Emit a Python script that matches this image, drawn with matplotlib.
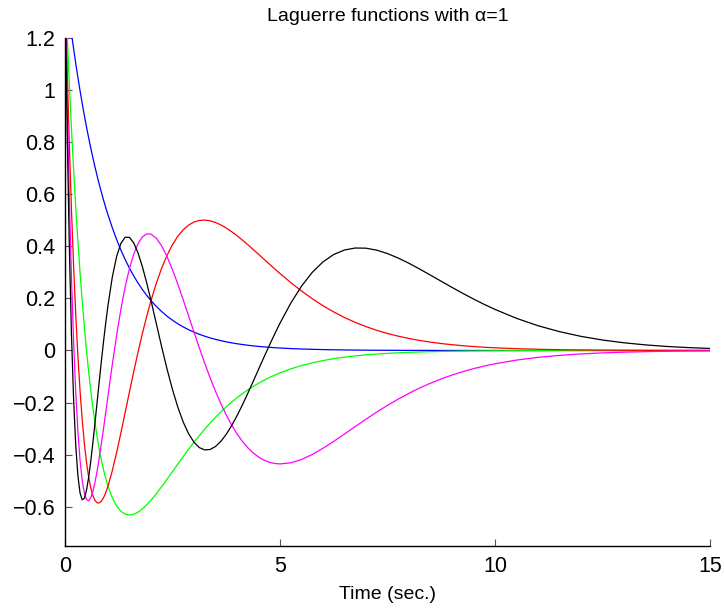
import numpy as np
import matplotlib
matplotlib.use("Agg")
import matplotlib.pyplot as plt

plt.rcParams['font.family'] = ['Liberation Sans', 'DejaVu Sans']

# time samples (sec.)
t = [0, 0.05, 0.1, 0.15, 0.2, 0.25, 0.3, 0.35, 0.4, 0.45, 0.5, 0.55, 0.6, 0.65, 0.7,
     0.75, 0.8, 0.85, 0.9, 0.95, 1.0,
     1.1, 1.2, 1.3, 1.4, 1.5, 1.6, 1.7, 1.8, 1.9, 2.0,
     2.125, 2.25, 2.375, 2.5, 2.625, 2.75, 2.875, 3.0, 3.125, 3.25, 3.375, 3.5,
     3.625, 3.75, 3.875, 4.0, 4.125, 4.25, 4.375, 4.5, 4.625, 4.75, 4.875, 5.0,
     5.25, 5.5, 5.75, 6.0, 6.25, 6.5, 6.75, 7.0, 7.25, 7.5, 7.75, 8.0,
     8.25, 8.5, 8.75, 9.0, 9.25, 9.5, 9.75, 10.0,
     10.5, 11.0, 11.5, 12.0, 12.5, 13.0, 13.5, 14.0, 14.5, 15.0]

# values (blue, green, red, magenta, black)
l0 = [1.4142, 1.3452, 1.2796, 1.2172, 1.1579, 1.1014, 1.0477, 0.9966, 0.9480, 0.9017,
      0.8578, 0.8159, 0.7761, 0.7383, 0.7023, 0.6680, 0.6354, 0.6045, 0.5750, 0.5469, 0.5203,
      0.4708, 0.4260, 0.3854, 0.3487, 0.3156, 0.2855, 0.2584, 0.2338, 0.2115, 0.1914,
      0.1689, 0.1491, 0.1315, 0.1161, 0.1024, 0.0904, 0.0798, 0.0704, 0.0621, 0.0548,
      0.0484, 0.0427, 0.0377, 0.0333, 0.0294, 0.0259, 0.0229, 0.0202, 0.0178, 0.0157,
      0.0139, 0.0122, 0.0108, 0.0095,
      0.0074, 0.0058, 0.0045, 0.0035, 0.0027, 0.0021, 0.0017, 0.0013, 0.0010, 0.0008,
      0.0006, 0.0005, 0.0004, 0.0003, 0.0002, 0.0002, 0.0001, 0.0001, 0.0001, 0.0001,
      0.0, 0.0, 0.0, 0.0, 0.0, 0.0, 0.0, 0.0, 0.0, 0.0]
l1 = [1.4142, 1.2107, 1.0237, 0.8520, 0.6947, 0.5507, 0.4191, 0.2990, 0.1896, 0.0902,
      0.0, -0.0816, -0.1552, -0.2215, -0.2809, -0.3340, -0.3812, -0.4232, -0.4600, -0.4922, -0.5203,
      -0.5650, -0.5964, -0.6166, -0.6277, -0.6312, -0.6281, -0.6202, -0.6079, -0.5922, -0.5742,
      -0.5489, -0.5219, -0.4933, -0.4644, -0.4354, -0.4068, -0.3790, -0.3520, -0.3262, -0.3016,
      -0.2783, -0.2562, -0.2355, -0.2162, -0.1981, -0.1813, -0.1657, -0.1513, -0.1380, -0.1257,
      -0.1144, -0.1040, -0.0945, -0.0858,
      -0.0705, -0.0578, -0.0473, -0.0386, -0.0314, -0.0255, -0.0207, -0.0168, -0.0136, -0.0110,
      -0.0088, -0.0071, -0.0057, -0.0046, -0.0037, -0.0030, -0.0024, -0.0019, -0.0015, -0.0012,
      -0.0008, -0.0005, -0.0003, -0.0002, -0.0001, -0.0001, -0.0001, 0.0, 0.0, 0.0]
l2 = [1.4142, 1.0829, 0.7934, 0.5417, 0.3242, 0.1377, -0.0210, -0.1545, -0.2654, -0.3562,
      -0.4289, -0.4855, -0.5277, -0.5574, -0.5759, -0.5845, -0.5846, -0.5773, -0.5635, -0.5442, -0.5203,
      -0.4614, -0.3919, -0.3160, -0.2371, -0.1578, -0.0799, -0.0052, 0.0655, 0.1311, 0.1914,
      0.2586, 0.3168, 0.3658, 0.4064, 0.4386, 0.4633, 0.4812, 0.4929, 0.4990, 0.5004,
      0.4975, 0.4911, 0.4817, 0.4698, 0.4559, 0.4404, 0.4236, 0.4060, 0.3877, 0.3692,
      0.3505, 0.3319, 0.3135, 0.2954,
      0.2607, 0.2283, 0.1986, 0.1718, 0.1478, 0.1265, 0.1078, 0.0916, 0.0775, 0.0653,
      0.0549, 0.0460, 0.0385, 0.0321, 0.0267, 0.0222, 0.0184, 0.0152, 0.0125, 0.0103,
      0.0070, 0.0047, 0.0031, 0.0021, 0.0014, 0.0009, 0.0006, 0.0004, 0.0003, 0.0002]
l3 = [1.4142, 0.9616, 0.5869, 0.2806, 0.0340, -0.1606, -0.3101, -0.4207, -0.4980, -0.5469,
      -0.5719, -0.5767, -0.5650, -0.5398, -0.5038, -0.4593, -0.4084, -0.3529, -0.2944, -0.2342, -0.1734,
      -0.0540, 0.0579, 0.1583, 0.2446, 0.3156, 0.3708, 0.4107, 0.4358, 0.4473, 0.4466,
      0.4306, 0.4007, 0.3593, 0.3096, 0.2537, 0.1940, 0.1324, 0.0704, 0.0095, -0.0491,
      -0.1047, -0.1566, -0.2042, -0.2474, -0.2858, -0.3195, -0.3484, -0.3728, -0.3927, -0.4085,
      -0.4203, -0.4285, -0.4334, -0.4352,
      -0.4309, -0.4181, -0.3988, -0.3751, -0.3485, -0.3203, -0.2918, -0.2635, -0.2362, -0.2104,
      -0.1863, -0.1640, -0.1437, -0.1253, -0.1088, -0.0941, -0.0811, -0.0696, -0.0596, -0.0509,
      -0.0368, -0.0263, -0.0187, -0.0131, -0.0092, -0.0064, -0.0044, -0.0030, -0.0021, -0.0014]
l4 = [1.4142, 0.8466, 0.4027, 0.0637, -0.1871, -0.3643, -0.4805, -0.5468, -0.5728, -0.5669,
      -0.5361, -0.4865, -0.4234, -0.3512, -0.2734, -0.1931, -0.1128, -0.0347, 0.0399, 0.1096, 0.1734,
      0.2813, 0.3606, 0.4111, 0.4346, 0.4340, 0.4122, 0.3735, 0.3213, 0.2595, 0.1914,
      0.1021, 0.0128, -0.0723, -0.1500, -0.2179, -0.2748, -0.3195, -0.3520, -0.3725, -0.3814,
      -0.3797, -0.3683, -0.3485, -0.3214, -0.2883, -0.2504, -0.2088, -0.1647, -0.1190, -0.0727,
      -0.0265, 0.0189, 0.0628, 0.1048,
      0.1815, 0.2468, 0.2997, 0.3400, 0.3684, 0.3856, 0.3932, 0.3925, 0.3849, 0.3718,
      0.3546, 0.3345, 0.3123, 0.2891, 0.2655, 0.2421, 0.2193, 0.1975, 0.1768, 0.1576,
      0.1234, 0.0951, 0.0723, 0.0542, 0.0402, 0.0296, 0.0215, 0.0155, 0.0111, 0.0079]

series = [l0, l1, l2, l3, l4]
colors = ['#0000ff', '#00ff00', '#ff0000', '#ff00ff', '#000000']

x_ticks = [0, 5, 10, 15]
y_ticks = [-0.6, -0.4, -0.2, 0, 0.2, 0.4, 0.6, 0.8, 1, 1.2]
y_tick_labels = ['\u22120.6', '\u22120.4', '\u22120.2', '0', '0.2', '0.4', '0.6', '0.8', '1', '1.2']

fig = plt.figure(figsize=(7.24, 6.08), dpi=100)
ax = fig.add_axes([65 / 724, 1 - 546 / 608, 645 / 724, (546 - 37.7) / 608])

for y, c in zip(series, colors):
    ax.plot(t, y, color=c, linewidth=0.9)

ax.set_xlim(0, 15)
ax.set_ylim(-0.75, 1.2)
ax.set_xticks(x_ticks)
ax.set_xticklabels([str(v) for v in x_ticks])
ax.set_yticks(y_ticks)
ax.set_yticklabels(y_tick_labels)

ax.spines['top'].set_visible(False)
ax.spines['right'].set_visible(False)
for s in ['left', 'bottom']:
    ax.spines[s].set_linewidth(1.0)
ax.tick_params(direction='in', length=5, width=0.8, color='#555555',
               labelsize=15.5, pad=7)

ax.set_title('Laguerre functions with \u03b1=1', fontsize=14, pad=12)
ax.set_xlabel('Time (sec.)', fontsize=14, labelpad=7)

fig.savefig('out.png', dpi=100)
